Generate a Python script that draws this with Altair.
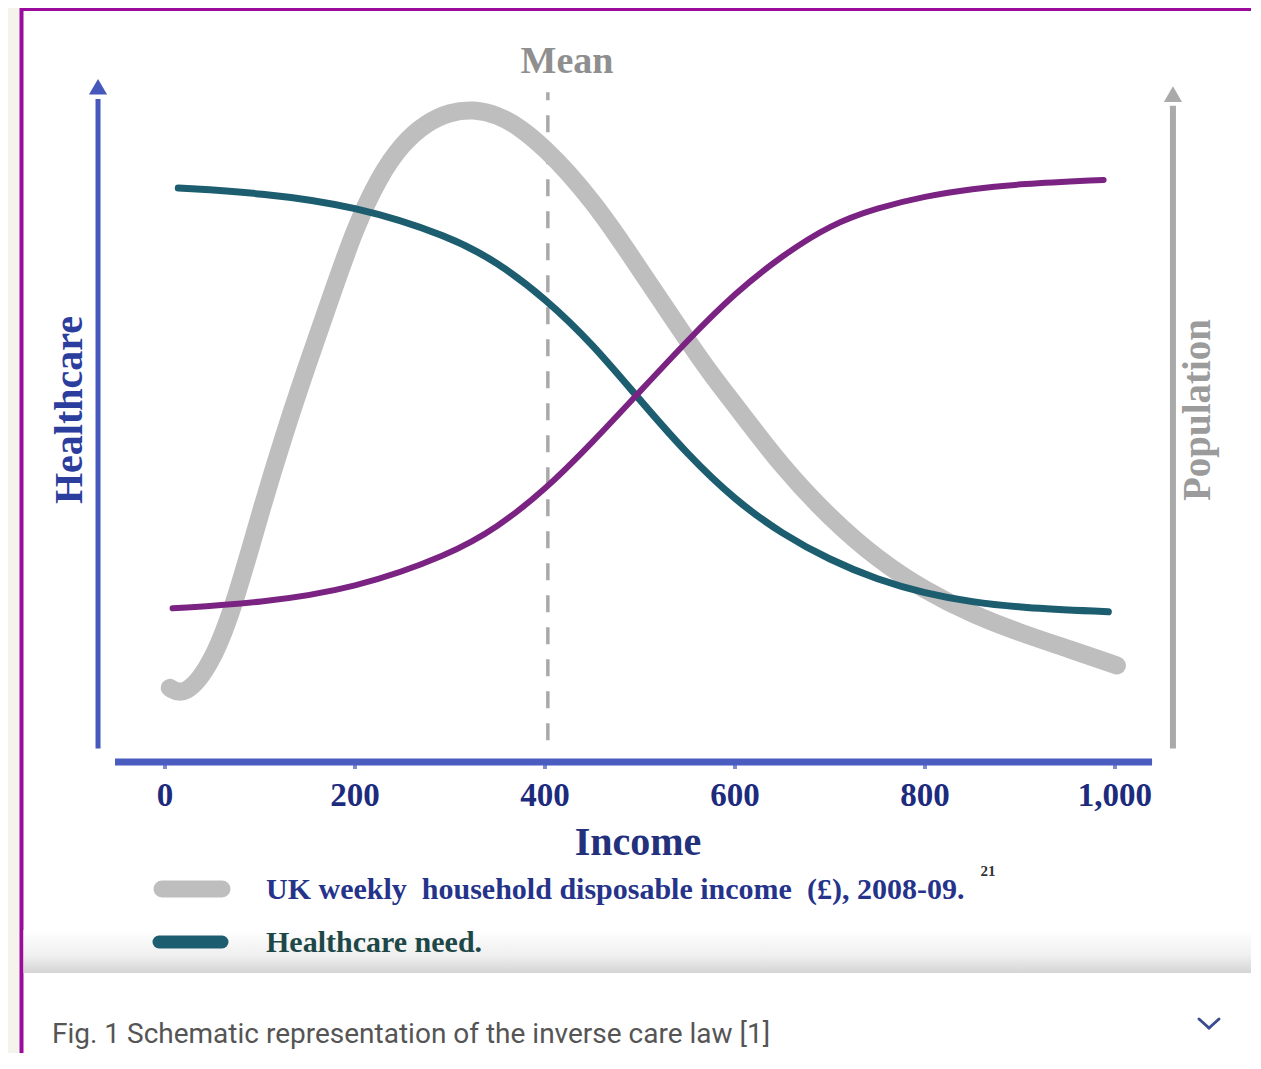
import altair as alt
import pandas as pd

# ---------------- data ----------------
# income in GBP / week, level in relative (schematic) units 0-100
pop_income = [5, 21, 50, 75, 100, 125, 150, 175, 200, 225, 250, 275, 300, 325, 350,
              375, 400, 425, 450, 475, 500, 525, 550, 575, 600, 650, 700, 750, 800,
              850, 900, 950, 1002]
pop_level = [10.9, 9.6, 14.5, 24.0, 36.5, 48.0, 58.5, 68.5, 78.5, 86.0, 91.0, 94.0,
             95.6, 96.0, 95.2, 93.2, 90.2, 86.6, 82.4, 77.6, 72.4, 67.2, 62.0, 57.0,
             52.5, 43.3, 35.9, 29.8, 25.2, 21.7, 19.0, 16.7, 14.2]

need_income = [14, 100, 200, 300, 350, 400, 450, 500, 550, 600, 650, 700, 750, 800,
               850, 900, 993]
need_level = [84.4, 83.7, 81.8, 77.3, 73.5, 68.2, 61.5, 53.2, 45.2, 38.5, 33.5, 29.7,
              26.8, 24.8, 23.5, 22.7, 22.1]

care_income = [8, 100, 200, 300, 350, 400, 450, 500, 550, 600, 650, 700, 750, 800,
               850, 900, 988]
care_level = [22.6, 23.4, 25.5, 30.5, 34.5, 40.0, 47.0, 54.5, 62.0, 69.0, 74.5, 79.0,
              81.5, 83.2, 84.3, 85.0, 85.6]

mean_income = 403
tick_values = [0, 200, 400, 600, 800, 1000]
tick_labels = ["0", "200", "400", "600", "800", "1,000"]

NB = "\u00a0"
legend_labels = [f"UK weekly{NB} household disposable income{NB} (\u00a3), 2008-09.",
                 "Healthcare need."]
x_title = "Income"
left_title = "Healthcare"
right_title = "Population"
mean_label = "Mean"
caption = "Fig. 1 Schematic representation of the inverse care law [1]"

# ---------------- layout / styling ----------------
W, H = 1243, 1045
X = alt.Scale(domain=[-165.26, 1143.16], nice=False, zero=False)
Y = alt.Scale(domain=[-42.79, 110.88], nice=False, zero=False)

AXIS_BLUE = "#4758bd"
GREY_CURVE = "#bebebe"
TEAL = "#1c5d70"
PURPLE = "#7a2382"
SERIF = "Liberation Serif"

one = pd.DataFrame({"k": [0]})


def xq(f):
    return alt.X(f"{f}:Q", scale=X, axis=None)


def yq(f):
    return alt.Y(f"{f}:Q", scale=Y, axis=None)


def curve(xs, ys, color, width):
    df = pd.DataFrame({"income": xs, "level": ys})
    return alt.Chart(df).mark_line(
        color=color, strokeWidth=width, strokeCap="round", strokeJoin="round",
        interpolate="basis"
    ).encode(x=xq("income"), y=yq("level"), order="income:Q")


def vrule(x, y1, y2, color, width, dash=None):
    df = pd.DataFrame({"x": [x], "y": [y1], "y2": [y2]})
    kw = dict(color=color, strokeWidth=width, strokeCap="butt")
    if dash:
        kw["strokeDash"] = dash
    return alt.Chart(df).mark_rule(**kw).encode(
        x=xq("x"), y=yq("y"), y2=alt.Y2("y2:Q"))


def arrow_head(x, y, color, size):
    df = pd.DataFrame({"x": [x], "y": [y]})
    return alt.Chart(df).mark_point(
        shape="triangle-up", filled=True, color=color, size=size, opacity=1
    ).encode(x=xq("x"), y=yq("y"))


def text_px(txt, x, y, size, color, weight="bold", font=SERIF, align="center",
            angle=None):
    kw = dict(text=txt, fontSize=size, color=color, fontWeight=weight, font=font,
              align=align, baseline="middle")
    if angle is not None:
        kw["angle"] = angle
    return alt.Chart(one).mark_text(**kw).encode(x=alt.value(x), y=alt.value(y))


def seg(x1, y1, x2, y2, color, width):
    return alt.Chart(one).mark_rule(color=color, strokeWidth=width, strokeCap="round").encode(
        x=alt.value(x1), y=alt.value(y1), x2=alt.value(x2), y2=alt.value(y2))


# frame (white panel with purple border)
frame = alt.Chart(one).mark_rect(fill="white", stroke="#9c0c9c", strokeWidth=4).encode(
    x=alt.value(13.5), x2=alt.value(1400), y=alt.value(1), y2=alt.value(1300))

shadow = alt.Chart(one).mark_rect(
    fill=alt.Gradient(
        gradient="linear",
        stops=[alt.GradientStop(color="#ffffff", offset=0),
               alt.GradientStop(color="#efefef", offset=0.6),
               alt.GradientStop(color="#d5d5d5", offset=1)],
        x1=0, x2=0, y1=0, y2=1)
).encode(x=alt.value(15.5), x2=alt.value(1400), y=alt.value(922), y2=alt.value(965))

# x axis line and ticks
xaxis_df = pd.DataFrame({"x": [-52.6], "x2": [1039], "y": [0]})
xaxis = alt.Chart(xaxis_df).mark_rule(color="#4a5cc0", strokeWidth=7).encode(
    x=xq("x"), x2=alt.X2("x2:Q"), y=yq("y"))
ticks_df = pd.DataFrame({"x": tick_values, "label": tick_labels})
tick_marks = alt.Chart(ticks_df).mark_tick(
    color="#4a5cc0", thickness=4, size=10, orient="vertical"
).encode(x=xq("x"), y=alt.value(756))
tick_text = alt.Chart(ticks_df).mark_text(
    font=SERIF, fontWeight="bold", fontSize=33, color="#1d2b7e", baseline="middle"
).encode(x=xq("x"), y=alt.value(788), text="label:N")

# vertical arrows
left_arrow = vrule(-70.5, 2.0, 97.5, AXIS_BLUE, 5) + arrow_head(-70.5, 99.3, AXIS_BLUE, 330)
right_arrow = vrule(1061, 2.0, 96.5, "#aaaaaa", 6) + arrow_head(1061, 98.2, "#aaaaaa", 330)

# mean line
mean_line = vrule(mean_income, 3.2, 98.5, "#a9a9a9", 3.5, dash=[17, 15])

layers = [
    frame, shadow, xaxis, tick_marks, tick_text, left_arrow, right_arrow, mean_line,
    curve(pop_income, pop_level, GREY_CURVE, 18),
    curve(need_income, need_level, TEAL, 7),
    curve(care_income, care_level, PURPLE, 6),
    text_px(mean_label, 559, 54, 38, "#8f8f8f"),
    text_px(x_title, 630, 835, 40, "#23307c"),
    text_px(left_title, 62, 402, 40, "#2b3d9d", angle=270),
    text_px(right_title, 1190, 402, 39, "#9b9b9b", angle=270),
    # legend
    alt.Chart(one).mark_rule(color=GREY_CURVE, strokeWidth=17, strokeCap="round").encode(
        x=alt.value(154), x2=alt.value(214), y=alt.value(881)),
    alt.Chart(one).mark_rule(color=TEAL, strokeWidth=13, strokeCap="round").encode(
        x=alt.value(151), x2=alt.value(214), y=alt.value(934)),
    text_px(legend_labels[0], 258, 882, 30, "#25338a", align="left"),
    text_px("21", 980, 863, 15, "#333333"),
    text_px(legend_labels[1], 258, 935, 30, "#1e4848", align="left"),
    # caption
    text_px(caption, 44, 1027, 28, "#555555", weight="normal", font="Roboto",
            align="left"),
    seg(1191, 1011, 1201, 1020, "#3a4d8f", 3),
    seg(1201, 1020, 1211, 1011, "#3a4d8f", 3),
]

chart = alt.layer(*layers).properties(
    width=W, height=H,
    autosize=alt.AutoSizeParams(type="none"),
    padding=0,
    background="#f4f4ec",
).configure_view(stroke=None)

chart.save("out.html", embed_options={"renderer": "svg", "actions": False})
